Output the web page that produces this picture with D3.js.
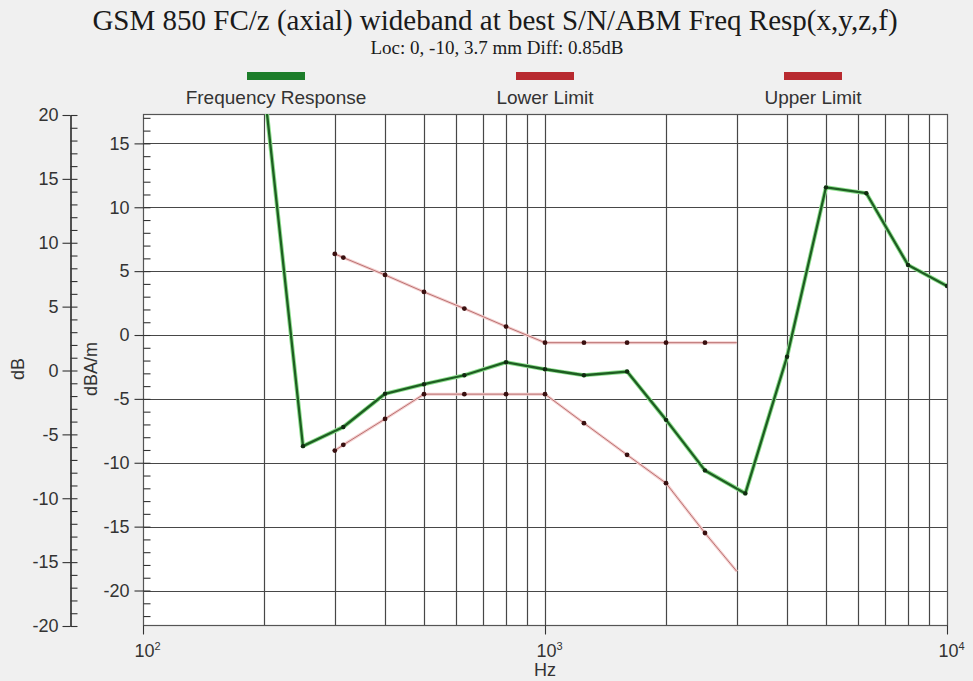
<!DOCTYPE html>
<html>
<head>
<meta charset="utf-8">
<script src="https://cdn.jsdelivr.net/npm/d3@7"></script>
<style>
  html, body { margin: 0; padding: 0; background: #f0f0f0; }
  svg { display: block; }
</style>
</head>
<body>
<script>
// ---------------- data ----------------
const titleText = "GSM 850 FC/z (axial) wideband at best S/N/ABM Freq Resp(x,y,z,f)";
const subtitleText = "Loc: 0, -10, 3.7 mm Diff: 0.85dB";
const seriesNames = ["Frequency Response", "Lower Limit", "Upper Limit"];
const seriesColors = ["#1c7d2a", "#b82a30", "#b82a30"];

const respFreqs = [200, 250, 315, 400, 500, 630, 800, 1000, 1250, 1600, 2000, 2500, 3150, 4000, 5000, 6300, 8000, 10000];
const respValues = [19.5, -8.7, -7.2, -4.6, -3.85, -3.15, -2.13, -2.68, -3.15, -2.86, -6.64, -10.6, -12.4, -1.7, 11.56, 11.1, 5.48, 3.84];

const limitFreqs = [300, 315, 400, 500, 630, 800, 1000, 1250, 1600, 2000, 2500, 3000];
const upperLimit = [6.35, 6.06, 4.7, 3.37, 2.07, 0.66, -0.6, -0.6, -0.6, -0.6, -0.6, -0.6];
const lowerLimit = [-9.05, -8.6, -6.57, -4.63, -4.63, -4.63, -4.63, -6.9, -9.38, -11.6, -15.5, -18.5];

const innerTicks = [15, 10, 5, 0, -5, -10, -15, -20];
const outerTicks = [20, 15, 10, 5, 0, -5, -10, -15, -20];
const xMajorTicks = [100, 1000, 10000];
const xTickExponents = ["2", "3", "4"];

// ---------------- layout ----------------
const W = 973, H = 681;
const L = 143, R = 947, T = 114, B = 625;

const svg = d3.select("body").append("svg").attr("width", W).attr("height", H);
svg.append("rect").attr("width", W).attr("height", H).attr("fill", "#f0f0f0");

const x = d3.scaleLog().domain([100, 10000]).range([L, R]);
const y = d3.scaleLinear().domain([-22.7, 17.3]).range([B, T]);
const yOuter = d3.scaleLinear().domain([-20, 20]).range([626, 115]);

// plot background
svg.append("rect").attr("x", L).attr("y", T).attr("width", R - L).attr("height", B - T).attr("fill", "#ffffff");

// grid
const gridColor = "#474747";
const vGrid = [];
[100, 1000].forEach(dec => { for (let k = 2; k <= 9; k++) vGrid.push(dec * k); });
vGrid.push(1000);
svg.append("g").selectAll("line").data(vGrid).join("line")
  .attr("x1", d => Math.round(x(d)) + 0.5).attr("x2", d => Math.round(x(d)) + 0.5)
  .attr("y1", T).attr("y2", B).attr("stroke", gridColor).attr("stroke-width", 1.2);
svg.append("g").selectAll("line").data(innerTicks).join("line")
  .attr("x1", L).attr("x2", R)
  .attr("y1", d => Math.round(y(d)) + 0.5).attr("y2", d => Math.round(y(d)) + 0.5)
  .attr("stroke", gridColor).attr("stroke-width", 1.2);

// frame
svg.append("rect").attr("x", L + 0.5).attr("y", T + 0.5).attr("width", R - L).attr("height", B - T)
  .attr("fill", "none").attr("stroke", "#555").attr("stroke-width", 1.2);

const fontSans = "Arial, 'Liberation Sans', sans-serif";
const fontSerif = "'Times New Roman', 'Liberation Serif', serif";
const tickColor = "#333333";
const fmt = d => String(d);

function styleAxis(g) {
  g.selectAll("path.domain").attr("stroke", tickColor).attr("stroke-width", 1.2);
  g.selectAll(".tick line").attr("stroke", tickColor).attr("stroke-width", 1.1);
  g.selectAll(".tick text").attr("fill", tickColor).style("font-family", fontSans).style("font-size", "18px");
}

// outer dB axis
const gOuterMinor = svg.append("g").attr("transform", "translate(70.5,0)")
  .call(d3.axisLeft(yOuter).tickValues(d3.range(-20, 21, 1)).tickSize(-7).tickSizeOuter(0).tickFormat(""));
styleAxis(gOuterMinor);
const gOuter = svg.append("g").attr("transform", "translate(70.5,0)")
  .call(d3.axisLeft(yOuter).tickValues(outerTicks).tickSize(8).tickSizeOuter(0).tickPadding(4).tickFormat(fmt));
styleAxis(gOuter);

// inner dBA/m axis
const gInnerMinor = svg.append("g").attr("transform", `translate(${L + 0.5},0)`)
  .call(d3.axisLeft(y).tickValues(d3.range(-22, 18, 1)).tickSize(-7).tickSizeOuter(0).tickFormat(""));
styleAxis(gInnerMinor);
gInnerMinor.select("path.domain").remove();
const gInner = svg.append("g").attr("transform", `translate(${L + 0.5},0)`)
  .call(d3.axisLeft(y).tickValues(innerTicks).tickSize(9).tickSizeOuter(0).tickPadding(5).tickFormat(fmt));
styleAxis(gInner);
gInner.select("path.domain").remove();

// bottom axis
const gX = svg.append("g").attr("transform", `translate(0,${B + 0.5})`)
  .call(d3.axisBottom(x).tickValues(xMajorTicks).tickSize(9).tickSizeOuter(0).tickFormat(""));
styleAxis(gX);
gX.select("path.domain").remove();
gX.selectAll(".tick").each(function (d, i) {
  const t = d3.select(this).append("text")
    .attr("x", 4).attr("y", 31).attr("text-anchor", "middle")
    .attr("fill", tickColor).style("font-family", fontSans).style("font-size", "18px");
  t.append("tspan").text("10");
  t.append("tspan").attr("dy", -7).style("font-size", "11px").text(xTickExponents[i]);
});

// axis titles
svg.append("text").attr("transform", "translate(24,369) rotate(-90)").attr("text-anchor", "middle")
  .attr("fill", tickColor).style("font-family", fontSans).style("font-size", "18px").text("dB");
svg.append("text").attr("transform", "translate(97,369) rotate(-90)").attr("text-anchor", "middle")
  .attr("fill", tickColor).style("font-family", fontSans).style("font-size", "18px").text("dBA/m");
svg.append("text").attr("x", 545).attr("y", 676).attr("text-anchor", "middle")
  .attr("fill", tickColor).style("font-family", fontSans).style("font-size", "18px").text("Hz");

// title
svg.append("text").attr("x", 495).attr("y", 30).attr("text-anchor", "middle")
  .attr("fill", "#1a1a1a").style("font-family", fontSerif).style("font-size", "29px").text(titleText);
svg.append("text").attr("x", 497).attr("y", 54).attr("text-anchor", "middle")
  .attr("fill", "#1a1a1a").style("font-family", fontSerif).style("font-size", "19px").text(subtitleText);

// legend
const legendCenters = [276, 545, 813];
const lg = svg.append("g");
seriesNames.forEach((name, i) => {
  lg.append("rect").attr("x", legendCenters[i] - 29).attr("y", 72).attr("width", 58).attr("height", 8)
    .attr("fill", seriesColors[i]);
  lg.append("text").attr("x", legendCenters[i]).attr("y", 104).attr("text-anchor", "middle")
    .attr("fill", tickColor).style("font-family", fontSans).style("font-size", "19px").text(name);
});

// clip
svg.append("clipPath").attr("id", "plotclip").append("rect")
  .attr("x", L).attr("y", T).attr("width", R - L).attr("height", B - T);
const plot = svg.append("g").attr("clip-path", "url(#plotclip)");

const line = d3.line().x(d => x(d[0])).y(d => y(d[1]));

function drawLimit(vals) {
  const pts = limitFreqs.map((f, i) => [f, vals[i]]);
  plot.append("path").datum(pts).attr("d", line).attr("fill", "none")
    .attr("stroke", "#f4d0d0").attr("stroke-width", 3);
  plot.append("path").datum(pts).attr("d", line).attr("fill", "none")
    .attr("stroke", "#bb7272").attr("stroke-width", 1);
  plot.append("g").selectAll("circle").data(pts.slice(0, -1)).join("circle")
    .attr("cx", d => x(d[0])).attr("cy", d => y(d[1])).attr("r", 2.4).attr("fill", "#3a1010");
}
drawLimit(upperLimit);
drawLimit(lowerLimit);

const respPts = respFreqs.map((f, i) => [f, respValues[i]]);
plot.append("path").datum(respPts).attr("d", line).attr("fill", "none")
  .attr("stroke", "#8fe08f").attr("stroke-width", 4.2).attr("stroke-linejoin", "round");
plot.append("path").datum(respPts).attr("d", line).attr("fill", "none")
  .attr("stroke", "#1e5e22").attr("stroke-width", 2.3).attr("stroke-linejoin", "round");
plot.append("g").selectAll("circle").data(respPts).join("circle")
  .attr("cx", d => x(d[0])).attr("cy", d => y(d[1])).attr("r", 2.2).attr("fill", "#102a10");
</script>
</body>
</html>
